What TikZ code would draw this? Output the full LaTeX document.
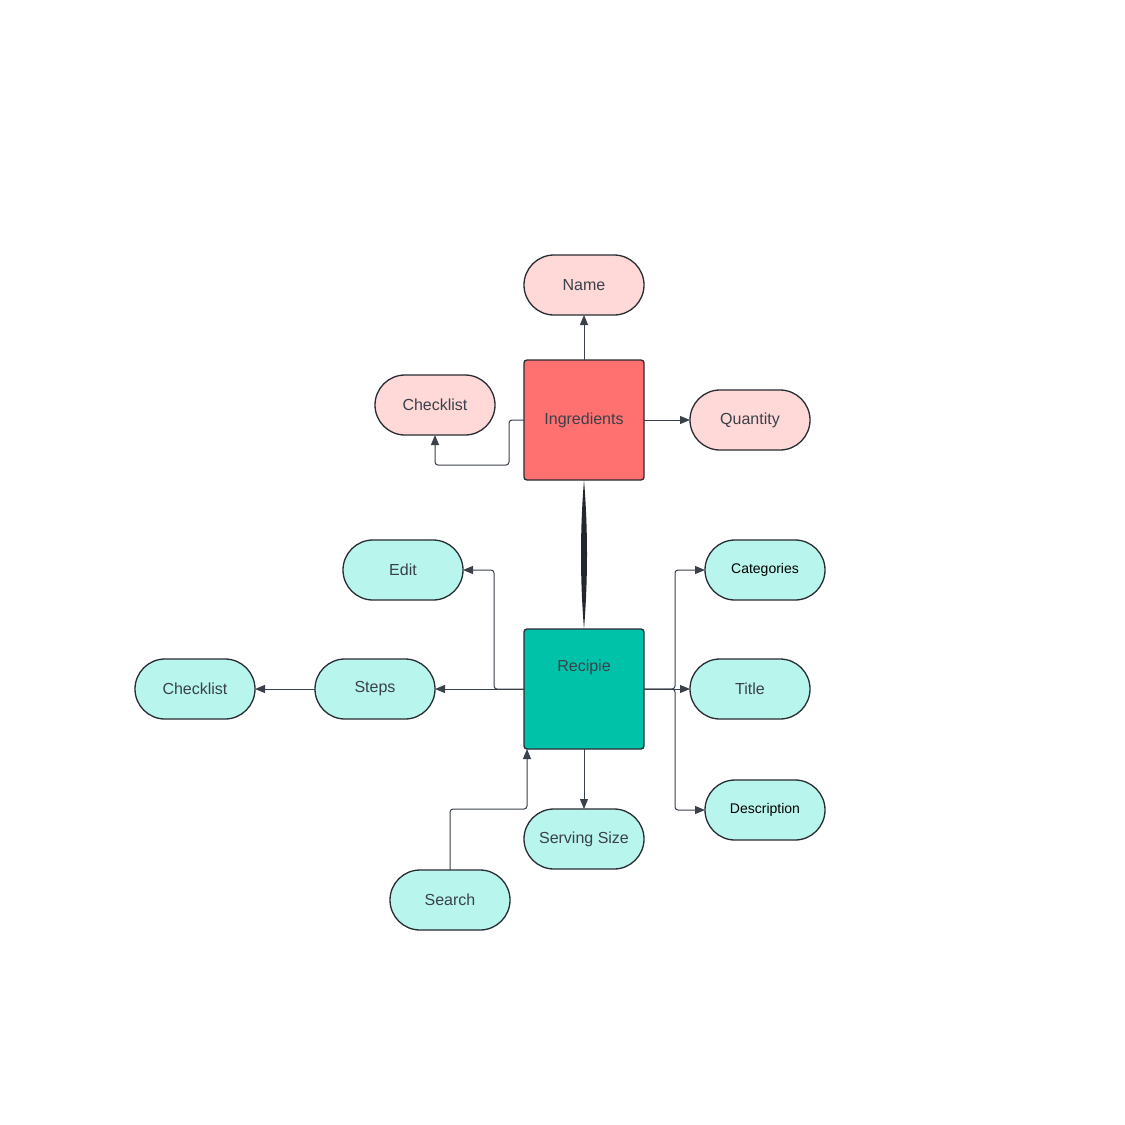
\documentclass[tikz,border=0pt]{standalone}
\usepackage{fontspec}
\setmainfont{Liberation Sans}
\usetikzlibrary{arrows.meta,calc}
\definecolor{linec}{HTML}{3A414A}
\definecolor{edgec}{HTML}{282C33}
\definecolor{pinkl}{HTML}{FFD8D8}
\definecolor{pinkd}{HTML}{FF7070}
\definecolor{teall}{HTML}{B8F5EC}
\definecolor{teald}{HTML}{00C2A8}
\tikzset{
  pill/.style={draw=edgec, line width=1.3pt, rounded corners=30pt, minimum width=120pt, minimum height=60pt, inner sep=0pt, outer sep=0pt, text=linec, font=\fontsize{16}{18}\selectfont},
  smalltxt/.style={text=black, font=\fontsize{14}{16}\selectfont},
  bigbox/.style={draw=edgec, line width=1.3pt, rounded corners=3pt, minimum width=120pt, minimum height=120pt, inner sep=0pt, outer sep=0pt, text=linec, font=\fontsize{16}{18}\selectfont},
  conn/.style={draw=linec, line width=1pt, rounded corners=3pt, -{Triangle[length=10pt,width=8pt]}},
}
\begin{document}
\begin{tikzpicture}[x=1pt,y=-1pt]
\useasboundingbox (0,0) rectangle (1125,1125);
\fill[white] (0,0) rectangle (1125,1125);
% ingredients group
\node[bigbox, fill=pinkd] (ing) at (584,420) {Ingredients};
\node[pill, fill=pinkl] (name) at (584,285) {Name};
\node[pill, fill=pinkl] (chk1) at (435,405) {Checklist};
\node[pill, fill=pinkl] (qty) at (750,420) {Quantity};
% recipe group
\node[bigbox, fill=teald, label={[anchor=center, yshift=-38pt, text=linec, font=\fontsize{16}{18}\selectfont]north:Recipie}] (rec) at (584,689) {};
\node[pill, fill=teall] (edit) at (403,570) {Edit};
\node[pill, fill=teall] (steps) at (375,689) {Steps};
\node[pill, fill=teall] (chk2) at (195,689) {Checklist};
\node[pill, fill=teall, smalltxt] (cat) at (765,570) {Categories};
\node[pill, fill=teall] (title) at (750,689) {Title};
\node[pill, fill=teall, smalltxt] (desc) at (765,810) {Description};
\node[pill, fill=teall] (serv) at (584,839) {Serving Size};
\node[pill, fill=teall] (search) at (450,900) {Search};
% connectors
\draw[conn] (ing.north) -- (name.south);
\draw[conn] (ing.east) -- (qty.west);
\draw[conn] (ing.west) -- ++(-15,0) -- ++(0,45) -| (chk1.south);
\fill[edgec!90!black] (ing.south) .. controls ($(ing.south)+(4,50)$) and ($(rec.north)+(4,-50)$) .. (rec.north)
  .. controls ($(rec.north)+(-4,-50)$) and ($(ing.south)+(-4,50)$) .. (ing.south) -- cycle;
\draw[conn] (rec.west) -- (steps.east);
\draw[conn] (rec.west) -- ++(-30,0) |- (edit.east);
\draw[conn] (steps.west) -- (chk2.east);
\draw[conn] (rec.east) -- (title.west);
\draw[conn] (rec.east) -- ++(31,0) |- (cat.west);
\draw[conn] (rec.east) -- ++(31,0) |- (desc.west);
\draw[conn] (rec.south) -- (serv.north);
\draw[conn] (search.north) -- ++(0,-61) -| ([xshift=-57pt]rec.south);
\end{tikzpicture}
\end{document}
